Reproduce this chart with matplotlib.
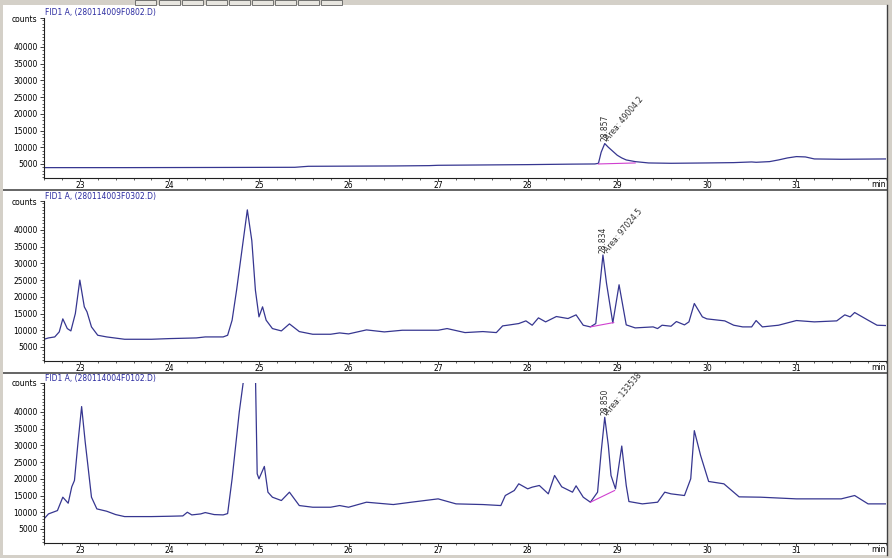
import matplotlib
matplotlib.use("Agg")
import matplotlib.pyplot as plt
from matplotlib.patches import Rectangle
from matplotlib.lines import Line2D
import numpy as np

# ---------------- data ----------------
titles = ["FID1 A, (280114009F0802.D)",
          "FID1 A, (280114003F0302.D)",
          "FID1 A, (280114004F0102.D)"]

t1 = [22.6, 23.5, 24.5, 25.4, 25.55, 26.5, 26.9, 27.0, 27.5, 28.0,
      28.5, 28.75, 28.79, 28.82, 28.86, 28.9, 28.95, 29.0, 29.05, 29.1,
      29.2, 29.35, 29.6, 30.0, 30.3, 30.5, 30.55, 30.7, 30.8, 30.9,
      31.0, 31.1, 31.2, 31.5, 32.0]
s1 = [3900, 3900, 3950, 4000, 4300, 4400, 4500, 4600, 4700, 4800,
      4950, 5000, 5200, 8500, 11100, 10000, 8800, 7600, 6800, 6200,
      5700, 5300, 5200, 5300, 5400, 5600, 5500, 5700, 6200, 6800,
      7200, 7100, 6500, 6400, 6500]

t2 = [22.6, 22.65, 22.72, 22.77, 22.81, 22.86, 22.9, 22.95, 23.0, 23.05,
      23.08, 23.13, 23.2, 23.3, 23.5, 23.8, 24.0, 24.3, 24.4, 24.5,
      24.6, 24.65, 24.7, 24.75, 24.8, 24.87, 24.92, 24.96, 25.0, 25.04,
      25.08, 25.15, 25.25, 25.34, 25.45, 25.6, 25.8, 25.9, 26.0, 26.2,
      26.4, 26.6, 26.8, 27.0, 27.1, 27.3, 27.5, 27.65, 27.72, 27.8,
      27.9, 27.98, 28.05, 28.12, 28.2, 28.32, 28.45, 28.54, 28.62, 28.70,
      28.76, 28.8, 28.84, 28.88, 28.95, 29.02, 29.1, 29.2, 29.4, 29.45,
      29.5, 29.6, 29.66, 29.75, 29.8, 29.86, 29.95, 30.0, 30.2, 30.3,
      30.4, 30.5, 30.55, 30.62, 30.8, 31.0, 31.2, 31.45, 31.54, 31.6,
      31.65, 31.8, 31.9, 32.0]
s2 = [7300, 7700, 8000, 9500, 13400, 10500, 9800, 15000, 25000, 17000,
      15500, 11000, 8500, 8000, 7300, 7300, 7500, 7700, 8000, 8000,
      8000, 8500, 13000, 22000, 32000, 46000, 36800, 22000, 14000, 17000,
      13000, 10500, 9800, 11900, 9600, 8800, 8800, 9200, 8900, 10100,
      9500, 10000, 10000, 10000, 10500, 9300, 9600, 9300, 11300, 11600,
      12000, 12800, 11500, 13700, 12500, 14100, 13500, 14600, 11500, 11000,
      12000, 22000, 32500, 24000, 12200, 23600, 11600, 10700, 11000, 10500,
      11500, 11200, 12600, 11600, 12500, 18000, 14000, 13400, 12800, 11500,
      11000, 11000, 12900, 11000, 11500, 12900, 12500, 12800, 14600, 14000,
      15300, 13000, 11500, 11400]

t3 = [22.6, 22.65, 22.7, 22.75, 22.81, 22.87, 22.91, 22.94, 22.98, 23.02,
      23.06, 23.09, 23.13, 23.19, 23.3, 23.4, 23.5, 23.8, 24.0, 24.15,
      24.2, 24.25, 24.35, 24.4, 24.5, 24.6, 24.65, 24.7, 24.78, 24.84,
      24.9, 24.96, 24.98, 25.0, 25.06, 25.1, 25.15, 25.25, 25.34, 25.45,
      25.6, 25.8, 25.9, 26.0, 26.2, 26.5, 26.7, 27.0, 27.2, 27.5,
      27.7, 27.75, 27.85, 27.9, 28.0, 28.05, 28.13, 28.23, 28.3, 28.38,
      28.5, 28.54, 28.62, 28.70, 28.78, 28.82, 28.86, 28.9, 28.93, 28.98,
      29.05, 29.1, 29.13, 29.28, 29.45, 29.53, 29.6, 29.75, 29.82, 29.86,
      29.93, 30.02, 30.19, 30.36, 30.6, 31.0, 31.5, 31.65, 31.8, 32.0]
s3 = [8000, 9500, 10000, 10500, 14500, 12700, 17600, 19500, 31000, 41600,
      31000, 24000, 14500, 11000, 10300, 9300, 8700, 8700, 8800, 8900,
      10000, 9200, 9500, 9900, 9300, 9200, 9600, 20000, 40000, 52000,
      62000, 52000, 21500, 20000, 23700, 16000, 14500, 13500, 16000, 12000,
      11500, 11500, 12000, 11500, 13000, 12300, 13000, 14000, 12500, 12300,
      12000, 15000, 16500, 18500, 17000, 17500, 18000, 15500, 21000, 17600,
      16000, 17900, 14500, 13000, 16000, 28000, 38400, 30000, 21000, 17000,
      29800, 18000, 13200, 12500, 13000, 16000, 15500, 15000, 20000, 34400,
      27000, 19200, 18500, 14600, 14500, 14000, 14000, 15000, 12500, 12500]

base_t = [[28.79, 29.2], [28.70, 28.96], [28.70, 28.97]]
base_y = [[5000, 5300], [11000, 12300], [13000, 16500]]

peak_rt = ["28.857", "28.834", "28.850"]
peak_area = ["Area: 49004.2", "Area: 97024.5", "Area: 133538"]
peak_x = [28.86, 28.84, 28.86]
peak_y = [11100, 32500, 38400]

xticks = [23, 24, 25, 26, 27, 28, 29, 30, 31]
yticks = [5000, 10000, 15000, 20000, 25000, 30000, 35000, 40000]

# ---------------- layout ----------------
W, H = 892, 558
fig = plt.figure(figsize=(W / 100, H / 100), dpi=100)
fig.patch.set_facecolor("white")

LINE = "#363690"
GRAY = "#d4d0c8"
YLIM = (800, 48650)
XLIM = (22.6, 32.0)

panels_px = [(18, 178), (201, 361), (383, 543)]
title_py = [12, 196, 378]
traces = [(t1, s1), (t2, s2), (t3, s3)]

for i, ((top, bot), (tt, ss)) in enumerate(zip(panels_px, traces)):
    ax = fig.add_axes([44 / W, 1 - bot / H, 842 / W, (bot - top) / H])
    ax.plot(tt, ss, color=LINE, lw=0.9)
    ax.plot(base_t[i], base_y[i], color="#d040d0", lw=0.8)
    ax.set_xlim(*XLIM)
    ax.set_ylim(*YLIM)
    for sp in ["top", "right"]:
        ax.spines[sp].set_visible(False)
    for sp in ["left", "bottom"]:
        ax.spines[sp].set_color("#202020")
        ax.spines[sp].set_linewidth(0.8)
    ax.set_xticks(xticks)
    ax.set_xticks(np.arange(22.6, 32.01, 0.2), minor=True)
    ax.set_xticklabels([str(v) for v in xticks])
    ax.set_yticks(yticks + [YLIM[1]])
    ax.set_yticklabels([str(v) for v in yticks] + ["counts"])
    ax.set_yticks(np.arange(1000, 48001, 1000), minor=True)
    ax.tick_params(axis="y", which="major", labelsize=5.5, length=3,
                   width=0.6, color="#202020", pad=1.5)
    ax.tick_params(axis="x", which="major", labelsize=5.5, length=2,
                   width=0.6, color="#202020", pad=0.3)
    ax.tick_params(axis="both", which="minor", length=1.3, width=0.5,
                   color="#202020")
    ax.text(1.0, -0.015, "min", transform=ax.transAxes, ha="right",
            va="top", fontsize=5.5)
    # peak annotations
    ax.text(peak_x[i], peak_y[i] + 700, peak_rt[i], rotation=90,
            ha="center", va="bottom", fontsize=5.5, color="#303030")
    ax.text(peak_x[i] + 0.07, peak_y[i] + 300, peak_area[i], rotation=50,
            ha="left", va="bottom", rotation_mode="anchor", fontsize=5.5,
            color="#303030")
    fig.text(45 / W, 1 - title_py[i] / H, titles[i], fontsize=5.5,
             color="#2a2aa0", va="center", ha="left")

# separators between panels
for py in [190, 373]:
    fig.add_artist(Line2D([0, 1], [1 - py / H] * 2, color="#4a4a4a",
                          lw=1.2, transform=fig.transFigure))

# window chrome: gray borders, right frame line, toolbar buttons
fig.add_artist(Rectangle((0, 1 - 5 / H), 1, 5 / H, transform=fig.transFigure,
                         facecolor=GRAY, edgecolor="none", zorder=5))
fig.add_artist(Rectangle((0, 0), 1, 3 / H, transform=fig.transFigure,
                         facecolor=GRAY, edgecolor="none", zorder=5))
fig.add_artist(Rectangle((0, 0), 3 / W, 1, transform=fig.transFigure,
                         facecolor=GRAY, edgecolor="none", zorder=5))
fig.add_artist(Rectangle((888 / W, 0), 4 / W, 1, transform=fig.transFigure,
                         facecolor=GRAY, edgecolor="none", zorder=5))
fig.add_artist(Line2D([887 / W] * 2, [3 / H, 1 - 5 / H], color="#404040",
                      lw=1.0, transform=fig.transFigure, zorder=6))
for bx in [135, 159, 182, 206, 229, 252, 275, 298, 321]:
    fig.add_artist(Rectangle((bx / W, 1 - 5 / H), 21 / W, 5 / H,
                             transform=fig.transFigure, facecolor="#e8e6e0",
                             edgecolor="#606060", lw=0.6, zorder=6))

fig.savefig("out.png", dpi=100)
